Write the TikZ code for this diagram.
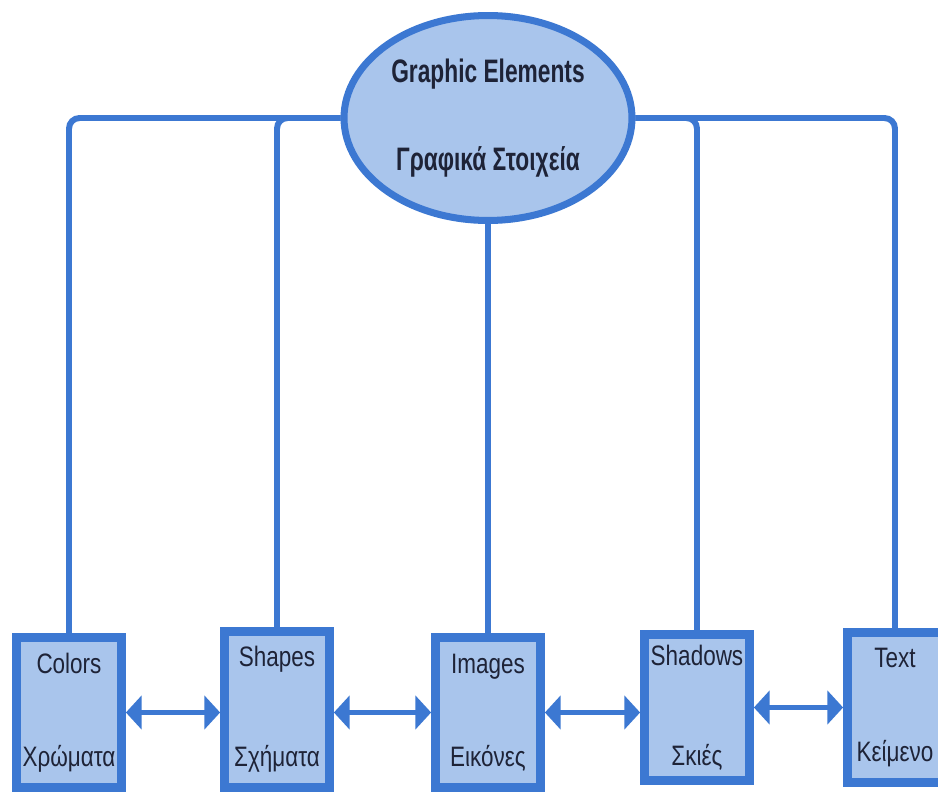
\documentclass[tikz,border=0pt]{standalone}
\usepackage{fontspec}
\setmainfont{Liberation Sans}
\newfontfamily\narrowsans[FakeStretch=0.8]{Liberation Sans}
\newfontfamily\narrowhead[FakeStretch=0.7]{Liberation Sans}
\usetikzlibrary{arrows.meta,positioning,shapes.geometric}
\definecolor{ElemLine}{HTML}{3C78D2}
\definecolor{ElemFill}{HTML}{A9C5EC}
\definecolor{ElemText}{HTML}{1E2337}

\begin{document}
\begin{tikzpicture}[x=0.02cm,y=-0.02cm]
    \tikzset{elem/.style={rectangle,draw=ElemLine,fill=ElemFill,line width=5pt,minimum width=2.1cm,
      minimum height=3cm,align=center,inner sep=0pt,text=ElemText,font=\narrowsans\fontsize{16}{19}\selectfont},
      bus/.style={draw=ElemLine,line width=3.4pt,rounded corners=6pt},
      link/.style={draw=ElemLine,line width=3.4pt,{Triangle[length=9pt,width=19pt]}-{Triangle[length=9pt,width=19pt]}}}
    \fill[white] (0,0) rectangle (938,794);
    \useasboundingbox (0,0) rectangle (938,794);
    \node[ellipse,draw=ElemLine,fill=ElemFill,line width=4pt,minimum width=5.76cm,minimum height=4.1cm,inner sep=0pt,
      align=center,text=ElemText,font=\narrowhead\bfseries\fontsize{18.5}{22}\selectfont] (ge) at (488,118) {Graphic Elements\\[28pt]Γραφικά Στοιχεία};
    \node[elem] (colors) at (69,712.5) {Colors\\[34pt]Χρώματα};
    \node[elem,minimum height=3.12cm] (shapes) at (277,709.5) {Shapes\\[38pt]Σχήματα};
    \node[elem] (images) at (488,712.5) {Images\\[34pt]Εικόνες};
    \node[elem,minimum height=2.92cm] (shadows) at (697,707.5) {Shadows\\[38pt]Σκιές};
    \node[elem,minimum width=1.9cm] (txt) at (895,707.5) {Text\\[35pt]Κείμενο};
    \draw[bus] (ge.west) -| (colors.north);
    \draw[bus] (shapes.north) |- (ge.west);
    \draw[bus] (ge.south) -- (images.north);
    \draw[bus] (shadows.north) |- (ge.east);
    \draw[bus] (ge.east) -| (txt.north);
    \draw[link] (colors.east) -- (colors.east -| shapes.west);
    \draw[link] (images.west -| shapes.east) -- (images.west);
    \draw[link] (images.east) -- (images.east -| shadows.west);
    \draw[link] (shadows.east) -- (shadows.east -| txt.west);
  \end{tikzpicture}
\end{document}
